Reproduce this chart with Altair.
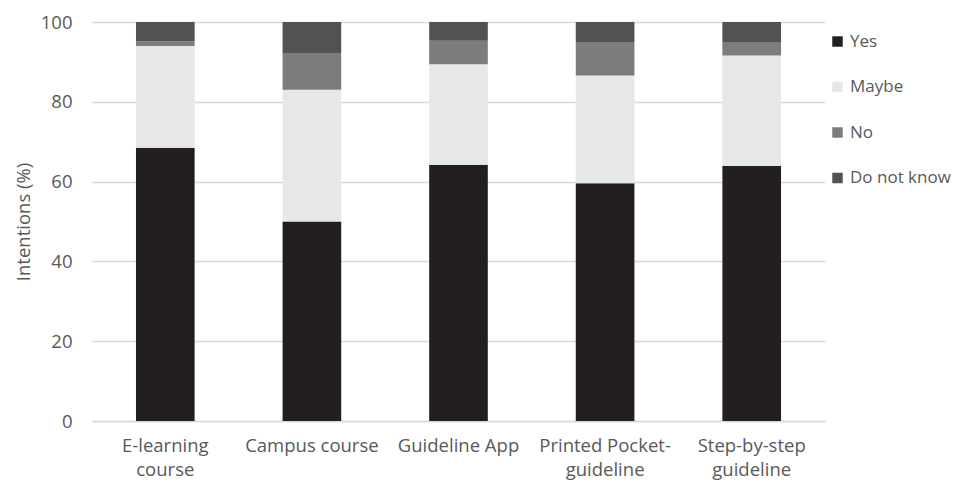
import altair as alt
import pandas as pd

categories = ["E-learning course", "Campus course", "Guideline App",
              "Printed Pocket-guideline", "Step-by-step guideline"]
cat_lines = [["E-learning", "course"], ["Campus course"], ["Guideline App"],
             ["Printed Pocket-", "guideline"], ["Step-by-step", "guideline"]]
answers = ["Yes", "Maybe", "No", "Do not know"]
yes = [68.5, 50.0, 64.2, 59.6, 63.9]
maybe = [25.5, 33.0, 25.2, 27.0, 27.7]
no = [1.2, 9.2, 5.9, 8.4, 3.4]
dnk = [4.8, 7.8, 4.7, 5.0, 5.0]
colors = ["#231f20", "#e6e7e8", "#7c7c7c", "#525252"]

rows = []
for i, c in enumerate(categories):
    for j, (a, v) in enumerate(zip(answers, [yes[i], maybe[i], no[i], dnk[i]])):
        rows.append({"cat": c, "answer": a, "value": v, "ord": j})
df = pd.DataFrame(rows)

label_map = "{" + ",".join(
    "'%s': [%s]" % (c, ",".join("'%s'" % l for l in ls)) for c, ls in zip(categories, cat_lines)
) + "}"

FONT = "Open Sans"
FS = 18.5
GREY = "#595959"

chart = alt.Chart(df).mark_bar().encode(
    x=alt.X("cat:N", sort=categories, title=None,
            scale=alt.Scale(paddingInner=0.6, paddingOuter=0.3),
            axis=alt.Axis(labelAngle=0, labelExpr=label_map + "[datum.value]",
                          labelFontSize=FS, labelColor=GREY, labelFont=FONT,
                          labelLineHeight=24, labelPadding=15, ticks=False, tickSize=0,
                          domainColor="#d9d9d9", domainWidth=1.5, grid=False)),
    y=alt.Y("value:Q", stack="zero", title="Intentions (%)",
            scale=alt.Scale(domain=[0, 100], nice=False),
            axis=alt.Axis(values=[0, 20, 40, 60, 80, 100], labelFontSize=FS,
                          labelColor=GREY, labelFont=FONT, labelPadding=20,
                          ticks=False, tickSize=0, domain=False, gridColor="#d9d9d9",
                          gridWidth=1.5, titleFontSize=FS, titleColor=GREY,
                          titleFont=FONT, titleFontWeight="normal", titlePadding=7)),
    color=alt.Color("answer:N", sort=answers,
                    scale=alt.Scale(domain=answers, range=colors),
                    legend=alt.Legend(title=None, orient="none", legendX=737, legendY=11,
                                      symbolType="square", symbolSize=110,
                                      symbolStrokeWidth=0, labelFontSize=17,
                                      labelColor=GREY, labelFont=FONT,
                                      rowPadding=27.5, labelOffset=4, labelLimit=200)),
    order=alt.Order("ord:Q", sort="ascending"),
).properties(
    width=733, height=399,
    autosize=alt.AutoSizeParams(type="none"),
    padding={"left": 84, "top": 14, "right": 129, "bottom": 64},
).configure_view(stroke=None)

chart.save("out.html", embed_options={"renderer": "svg", "actions": False})
